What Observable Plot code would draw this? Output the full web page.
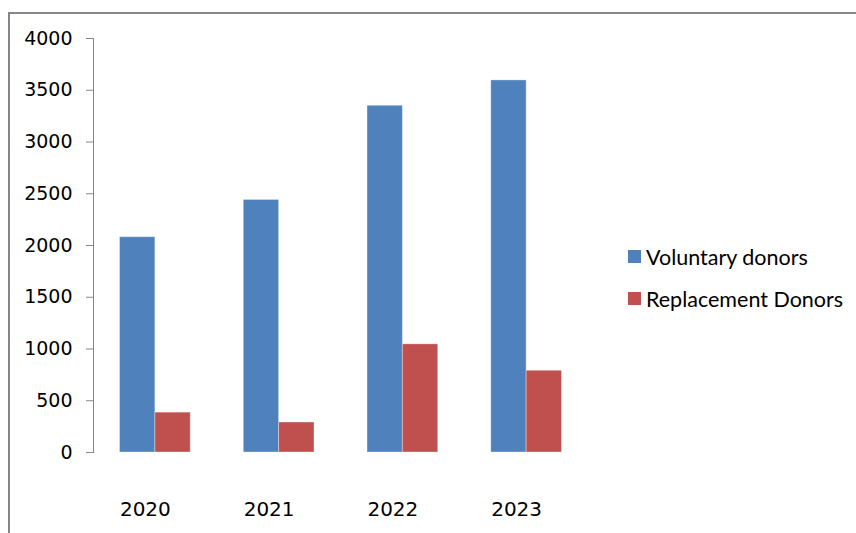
<!DOCTYPE html>
<html><head><meta charset="utf-8">
<script src="https://cdn.jsdelivr.net/npm/d3@7"></script>
<script src="https://cdn.jsdelivr.net/npm/@observablehq/plot@0.6"></script>
<style>
body{margin:0;background:#fff;}
#wrap{position:relative;width:856px;height:533px;overflow:hidden;background:#fff;}
#border{position:absolute;left:8px;top:12px;width:1000px;height:700px;border-left:2px solid #868686;border-top:2px solid #868686;}
#chart{position:absolute;left:0;top:0;}
.lg{position:absolute;left:628px;font-family:Lato,sans-serif;font-size:21.5px;color:#000;white-space:nowrap;}
.lg .sw{position:absolute;left:0;width:13px;height:13px;}
.lg .tx{position:absolute;left:18px;line-height:20px;}
</style></head>
<body><div id="wrap"><div id="border"></div><div id="chart"></div><div id="legend"></div></div>
<script>
const years = ["2020", "2021", "2022", "2023"];
const seriesNames = ["Voluntary donors", "Replacement Donors"];
const voluntary = [2080, 2440, 3350, 3595];
const replacement = [385, 290, 1045, 790];
const colors = ["#4F81BD", "#C0504D"];
const yTicks = [0, 500, 1000, 1500, 2000, 2500, 3000, 3500, 4000];

const data = years.flatMap((y, i) => [
  {year: y, series: seriesNames[0], value: voluntary[i]},
  {year: y, series: seriesNames[1], value: replacement[i]}
]);

const plot = Plot.plot({
  width: 856, height: 533,
  marginLeft: 93, marginTop: 38, marginBottom: 81, marginRight: 268,
  style: {fontFamily: "DejaVu Sans", fontSize: "19px", background: "transparent", color: "#000", overflow: "visible"},
  fx: {domain: years, paddingInner: 0, paddingOuter: 0, round: false, axis: null, label: null},
  x: {domain: seriesNames, paddingInner: 0, paddingOuter: 0.75, round: false, axis: null, label: null},
  y: {domain: [0, 4000], axis: null, label: null},
  color: {domain: seriesNames, range: colors},
  marks: [
    Plot.barY(data, {fx: "year", x: "series", y: "value", fill: "series", inset: 0, stroke: "#fff", strokeOpacity: 0.35, strokeWidth: 1}),
    Plot.frame({anchor: "left", facetAnchor: "left", stroke: "#868686"}),
    Plot.axisY({ticks: yTicks, tickSize: 7, tickPadding: 14, stroke: "#868686", fill: "#000", tickFormat: d => String(d), fontSize: 19, label: null}),
    Plot.axisFx({anchor: "bottom", tickSize: 0, tickPadding: 49, fontSize: 20, dx: -10, fill: "#000", label: null})
  ]
});
document.getElementById("chart").appendChild(plot);

const legend = document.getElementById("legend");
const rowTops = [247, 289];
seriesNames.forEach((name, i) => {
  const row = document.createElement("div");
  row.className = "lg";
  row.style.top = rowTops[i] + "px";
  row.innerHTML = `<div class="sw" style="top:3px;background:${colors[i]}"></div><div class="tx">${name}</div>`;
  legend.appendChild(row);
});
</script>
</body></html>
